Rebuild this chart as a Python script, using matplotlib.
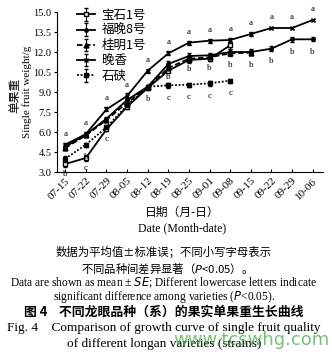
import numpy as np
import matplotlib
matplotlib.use('Agg')
import matplotlib.pyplot as plt

# Data ---------------------------------------------------------------------
dates = ['07-15', '07-22', '07-29', '08-05', '08-12', '08-19', '08-25',
         '09-01', '09-08', '09-15', '09-22', '09-29', '10-06']

baoshi = [3.6, 4.05, 6.2, 7.9, 9.3, 10.6, 11.4, 11.5, 12.5]
fuwan = [4.9, 5.8, 7.0, 8.4, 9.4, 11.1, 11.7, 11.75, 12.0, 12.0, 12.25, 12.95, 12.95]
guiming = [4.8, 5.75, 6.9, 8.2, 9.35, 10.8, 11.5, 11.6, 11.9, 11.95]
wanxiang = [5.05, 5.85, 7.7, 8.7, 10.6, 11.9, 12.7, 12.85, 12.9, 13.35, 13.8, 13.8, 14.4]
shixia = [4.0, 5.05, 6.35, 8.0, 9.4, 9.5, 9.55, 9.65, 9.85]

baoshi_se = [0.2, 0.2, 0.15, 0.15, 0.15, 0.2, 0.2, 0.2, 0.25]
fuwan_se = [0.15, 0.15, 0.15, 0.15, 0.15, 0.2, 0.2, 0.2, 0.2, 0.2, 0.2, 0.2, 0.15]
guiming_se = [0.15, 0.15, 0.15, 0.15, 0.15, 0.2, 0.2, 0.2, 0.2, 0.2]
wanxiang_se = [0.15, 0.15, 0.15, 0.2, 0.15, 0.15, 0.15, 0.15, 0.15, 0.15, 0.1, 0.1, 0.1]
shixia_se = [0.2, 0.15, 0.15, 0.15, 0.15, 0.2, 0.15, 0.2, 0.15]

# significance letters (top series above, others below)
wanxiang_letters = ['a'] * 13
fuwan_letters = ['', '', '', '', 'b', 'b', 'b', 'b', 'b', 'b', 'b', 'b', 'b']
baoshi_letters = ['b', 'c', 'c', '', '', '', '', '', '', '', '', '', '']
shixia_letters = ['', 'b', '', '', '', 'c', 'c', 'c', 'c']

series = [
    ('宝石1号', baoshi, baoshi_se, dict(marker='s', mfc='white', ls='-')),
    ('福晚8号', fuwan, fuwan_se, dict(marker='o', mfc='black', ls='-', ms=2.5)),
    ('桂明1号', guiming, guiming_se, dict(marker='^', mfc='black', ls=(0, (3, 1.5)))),
    ('晚香', wanxiang, wanxiang_se, dict(marker='x', mfc='black', ls='-')),
    ('石硖', shixia, shixia_se, dict(marker='s', mfc='black', ls=(0, (1, 1)))),
]

serif = ['Liberation Serif', 'Noto Sans CJK SC']
cjk = ['Noto Sans CJK SC', 'Liberation Serif']

fig = plt.figure(figsize=(3.32, 3.56), dpi=100)
ax = fig.add_axes([57 / 332, 1 - 172 / 356, 266 / 332, 160 / 356])

x = np.arange(len(dates))
for name, vals, se, st in series:
    n = len(vals)
    ax.errorbar(x[:n], vals, yerr=se, color='black', lw=1.3, ls=st['ls'],
                marker=st['marker'], mfc=st['mfc'], mec='black',
                ms=st.get('ms', 3.5), mew=1.0, capsize=1.5, elinewidth=0.8,
                label=name)

def put_letters(vals, letters, dy):
    for i, (v, t) in enumerate(zip(vals, letters)):
        if t:
            ax.annotate(t, (x[i], v), xytext=(0, dy), textcoords='offset points',
                        ha='center', va='center', fontsize=6.5, family=serif)

put_letters(wanxiang, wanxiang_letters, 8)
put_letters(fuwan, fuwan_letters, -9)
put_letters(baoshi, baoshi_letters, -7)
put_letters(shixia, shixia_letters, -9)

ax.set_xlim(-0.4, 12.5)
ax.set_ylim(3.0, 15.0)
yt = np.arange(3.0, 15.01, 1.5)
ax.set_yticks(yt)
ax.set_yticklabels([f'{v:.1f}' for v in yt], family=serif, fontsize=7.5)
ax.set_xticks(x)
ax.set_xticklabels(dates, rotation=45, ha='right', rotation_mode='anchor',
                   family=serif, fontsize=8)
ax.tick_params(axis='x', direction='in', length=2.5, width=0.8, pad=3)
ax.tick_params(axis='y', direction='out', length=2.5, width=0.8, pad=1.5)
for s in ['top', 'right']:
    ax.spines[s].set_visible(False)
for s in ['left', 'bottom']:
    ax.spines[s].set_linewidth(0.8)

leg = ax.legend(loc='upper left', bbox_to_anchor=(0.05, 1.06), frameon=False,
                prop={'family': cjk, 'size': 9}, handlelength=1.5,
                handletextpad=0.5, labelspacing=0.18, borderpad=0)

# axis titles
fig.text(15 / 332, 1 - 95 / 356, '单果重', rotation=90, ha='center', va='center',
         family=cjk, fontsize=8.5)
fig.text(27 / 332, 1 - 92 / 356, 'Single fruit weight/g', rotation=90, ha='center',
         va='center', family=serif, fontsize=8)
fig.text(182 / 332, 1 - 212 / 356, '日期（月-日）', ha='center', va='center',
         family=cjk, fontsize=8.5)
fig.text(182 / 332, 1 - 228 / 356, 'Date (Month-date)', ha='center', va='center',
         family=serif, fontsize=8.5)

# caption
fig.text(164 / 332, 1 - 252 / 356, '数据为平均值±标准误；不同小写字母表示', ha='center',
         va='center', family=cjk, fontsize=8.2)
fig.text(164 / 332, 1 - 269 / 356, '不同品种间差异显著（$\\it{P}$<0.05）。', ha='center',
         va='center', family=cjk, fontsize=8.2)
fig.text(164 / 332, 1 - 283 / 356,
         'Data are shown as mean ± $\\it{SE}$; Different lowercase letters indicate',
         ha='center', va='center', family=serif, fontsize=8.3)
fig.text(164 / 332, 1 - 297 / 356,
         'significant difference among varieties ($\\it{P}$<0.05).',
         ha='center', va='center', family=serif, fontsize=8.3)
fig.text(164 / 332, 1 - 312 / 356, '图 4    不同龙眼品种（系）的果实单果重生长曲线',
         ha='center', va='center', family=cjk, fontsize=9.3, weight='bold')
fig.text(164 / 332, 1 - 328 / 356,
         'Fig. 4    Comparison of growth curve of single fruit quality',
         ha='center', va='center', family=serif, fontsize=9.5)
fig.text(164 / 332, 1 - 344 / 356, 'of different longan varieties (strains)',
         ha='center', va='center', family=serif, fontsize=9.5)
fig.text(330 / 332, 1 - 340 / 356, 'www.tcswhg.com', ha='right', va='center',
         family='DejaVu Sans', fontsize=13, color='#3aa83a', alpha=0.7)

fig.savefig('out.png', dpi=100)
